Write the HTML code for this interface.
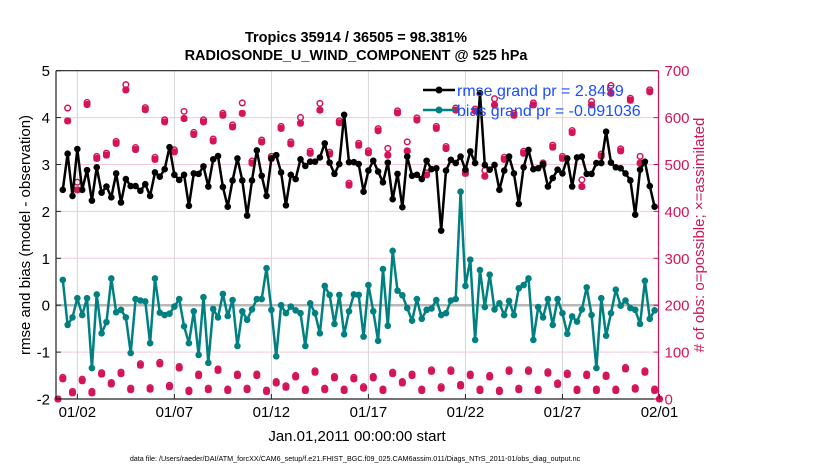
<!DOCTYPE html>
<html><head><meta charset="utf-8">
<style>
html,body{margin:0;padding:0;background:#fff;}
svg{display:block;font-family:"Liberation Sans",Arial,sans-serif;}
</style></head>
<body>
<svg id="chart" width="830" height="470" viewBox="0 0 830 470">
  <text x="356" y="42" text-anchor="middle" font-size="14.5" font-weight="bold">Tropics 35914 / 36505 = 98.381%</text>
  <text x="356" y="60" text-anchor="middle" font-size="14.5" font-weight="bold">RADIOSONDE_U_WIND_COMPONENT @ 525 hPa</text>
  <g id="grid"></g>
  <g id="marks"></g>
  <g id="axes"></g>
  <text transform="translate(30,235) rotate(-90)" text-anchor="middle" font-size="15">rmse and bias (model - observation)</text>
  <text transform="translate(704,235) rotate(-90)" text-anchor="middle" font-size="15" fill="#d4145a"># of obs: o=possible; ×=assimilated</text>
  <text x="357" y="441" text-anchor="middle" font-size="15">Jan.01,2011 00:00:00 start</text>
  <text x="355" y="461" text-anchor="middle" font-size="7.2">data file: /Users/raeder/DAI/ATM_forcXX/CAM6_setup/f.e21.FHIST_BGC.f09_025.CAM6assim.011/Diags_NTrS_2011-01/obs_diag_output.nc</text>
  <g id="legend">
    <line x1="423" y1="90" x2="455" y2="90" stroke="#000" stroke-width="2.5"/>
    <circle cx="439" cy="90" r="3.5" fill="#000"/>
    <text x="457" y="96" font-size="16" fill="#1a4dff">rmse grand pr = 2.8459</text>
    <line x1="423" y1="110" x2="455" y2="110" stroke="#008080" stroke-width="2.5"/>
    <circle cx="439" cy="110" r="3.5" fill="#008080"/>
    <text x="457" y="116" font-size="16" fill="#1a4dff">bias grand pr = -0.091036</text>
  </g>
</svg>
<script>
const rmse=[2.46,3.23,2.33,3.33,2.46,2.88,2.23,2.94,2.40,2.53,2.30,2.81,2.19,2.69,2.54,2.54,2.44,2.58,2.33,2.83,2.74,2.90,3.37,2.78,2.67,2.78,2.12,2.81,2.80,2.96,2.53,3.11,3.18,2.52,2.10,2.66,3.13,2.66,1.91,2.66,3.30,2.76,
2.33,3.13,3.20,2.83,2.13,2.78,2.69,3.11,2.97,3.06,3.06,3.15,3.45,3.04,2.80,3.01,4.06,3.05,3.05,3.01,2.42,2.87,3.08,2.85,2.62,3.04,2.26,2.80,2.09,3.17,2.76,2.78,2.69,3.08,2.90,2.92,1.59,2.87,3.10,3.03,3.17,
2.89,3.28,3.03,4.52,2.99,2.89,2.99,2.46,2.87,3.17,2.81,2.16,2.94,3.31,2.90,2.92,3.01,2.53,2.71,2.89,2.81,3.13,2.53,3.15,3.17,2.80,2.80,3.03,3.03,3.70,3.04,2.94,2.92,2.81,2.66,1.93,2.89,3.06,2.54,2.10];
const bias=[0.54,-0.42,-0.26,0.15,-0.21,0.15,-1.34,0.23,-0.60,-0.36,0.57,-0.15,-0.10,-0.26,-1.02,0.13,0.10,0.08,-0.81,0.57,-0.16,-0.21,-0.18,-0.03,0.13,-0.45,-0.81,-0.13,-1.06,0.17,-1.23,-0.08,-0.26,0.24,-0.23,0.11,-0.87,-0.13,-0.31,-0.09,0.13,0.13,
0.79,-0.10,-1.09,0.00,-0.17,-0.03,-0.11,-0.17,-0.87,0.04,-0.17,-0.60,0.41,0.22,-0.40,0.22,-0.62,-0.13,0.23,0.22,-0.67,0.43,-0.13,-0.76,0.77,-0.44,1.16,0.31,0.21,-0.06,-0.33,0.13,-0.29,-0.10,-0.07,0.11,-0.21,-0.17,0.10,0.13,2.42,
0.41,0.97,-0.74,0.75,-0.04,0.65,-0.09,0.04,-0.21,0.09,-0.21,0.36,0.43,0.57,-0.74,-0.04,-0.26,0.13,-0.42,0.13,-0.17,-0.61,-0.24,-0.35,-0.09,0.38,-0.21,-1.34,0.15,-0.65,-0.17,0.33,-0.01,0.10,-0.06,-0.10,-0.40,0.52,-0.29,-0.11];
const obsHigh=[593,446,628,513,520,545,659,532,617,511,591,527,598,564,591,550,605,580,609,503,548,
513,577,544,588,524,616,522,589,456,541,525,572,520,610,529,595,478,577,534,616,
481,614,475,627,511,605,524,627,499,537,513,568,453,627,518,652,529,637,503,655];
const obsLow=[43,13,39,13,53,32,54,20,72,21,75,26,66,16,50,20,61,18,50,20,50,
16,34,25,47,18,57,20,45,18,43,23,45,18,54,34,50,18,59,23,59,28,
50,18,47,16,59,20,59,18,55,31,52,18,50,18,48,18,64,21,57,18];
const possExtra=[23,12,0,0,0,0,7,0,0,0,0,0,11,0,0,0,0,0,18,0,0,
0,0,0,8,0,10,0,0,0,0,0,0,10,0,15,0,0,0,0,0,
0,0,8,9,0,0,0,0,0,0,0,0,10,3,0,12,0,0,10,0];
const xTickDays=[1,6,11,16,21,26,31];
const xTickLabels=["01/02","01/07","01/12","01/17","01/22","01/27","02/01"];
const yTicksL=[-2,-1,0,1,2,3,4,5];
const yTicksR=[0,100,200,300,400,500,600,700];

const NS="http://www.w3.org/2000/svg";
const X0=56,X1=658.5,Y0=70.7,Y1=399;
const DAY0=-0.1,DAY1=30.95;
const xs=d=>X0+(d-DAY0)/(DAY1-DAY0)*(X1-X0);
const yL=v=>Y1-(v+2)/7*(Y1-Y0);
const yR=v=>Y1-v/700*(Y1-Y0);
const dayOf=i=>0.25+i*0.25;
const RED="#d4145a",TEAL="#008080";
function mk(tag,attrs,parent){const e=document.createElementNS(NS,tag);for(const k in attrs)e.setAttribute(k,attrs[k]);parent.appendChild(e);return e;}
const grid=document.getElementById('grid'),marks=document.getElementById('marks'),axes=document.getElementById('axes');

yTicksR.forEach(v=>{if(v===0||v===700)return;
 const l=mk('line',{x1:X0,x2:X1,y1:yR(v),y2:yR(v),stroke:'#f3c9d8','stroke-width':1},grid);
 
 });
xTickDays.forEach(d=>{const x=xs(d);if(x>X1-1)return;
 const l=mk('line',{x1:x,x2:x,y1:Y0,y2:Y1,stroke:'#d6d6d6','stroke-width':1},grid);
 
 });
const zl=mk('line',{x1:X0,x2:X1,y1:yL(0),y2:yL(0),stroke:'#b8b8b8','stroke-width':2.5},grid);



function asterisk(x,y,g){
 const p=mk('path',{d:`M${x-3.5},${y}H${x+3.5}M${x},${y-3.5}V${y+3.5}M${x-2.6},${y-2.6}L${x+2.6},${y+2.6}M${x-2.6},${y+2.6}L${x+2.6},${y-2.6}`,stroke:RED,'stroke-width':2.4,fill:'none'},g);
 
 }
function circ(x,y,g){
 const c=mk('circle',{cx:x,cy:y,r:2.8,fill:'none',stroke:RED,'stroke-width':1.5},g);
 
 }
obsHigh.forEach((v,k)=>{const i=2*k+1;const x=xs(dayOf(i));
 circ(x,yR(v+(possExtra[k]||0))-2,marks);asterisk(x,yR(v),marks);});
obsLow.forEach((v,k)=>{const i=2*k;const x=xs(dayOf(i));
 circ(x,yR(v)-1.5,marks);asterisk(x,yR(v),marks);});
[0,31].forEach(d=>{const x=xs(d);asterisk(x,yR(0),marks);});

function series(arr,color,name){
 const pts=arr.map((v,i)=>xs(dayOf(i)).toFixed(1)+','+yL(v).toFixed(1)).join(' ');
 const pl=mk('polyline',{points:pts,fill:'none',stroke:color,'stroke-width':2.5,'stroke-linejoin':'round'},marks);
 
 
 arr.forEach((v,i)=>{const c=mk('circle',{cx:xs(dayOf(i)),cy:yL(v),r:3.3,fill:color},marks);
  
  });}
series(bias,TEAL,'bias');
series(rmse,'#000','rmse');

const fr=mk('path',{d:`M${X0},${Y0}H${X1}M${X0},${Y0}V${Y1}H${X1}`,stroke:'#222','stroke-width':1.2,fill:'none'},axes);


const rl=mk('line',{x1:X1,x2:X1,y1:Y0,y2:Y1,stroke:RED,'stroke-width':1.2},axes);


yTicksL.forEach(v=>{const y=yL(v);
 mk('line',{x1:X0,x2:X0+5,y1:y,y2:y,stroke:'#222'},axes);
 const t=mk('text',{x:X0-6,y:y+5.5,'text-anchor':'end','font-size':15},axes);t.textContent=v;
 
 });
yTicksR.forEach(v=>{const y=yR(v);
 mk('line',{x1:X1-5,x2:X1,y1:y,y2:y,stroke:RED},axes);
 const t=mk('text',{x:X1+6,y:y+5.5,'font-size':15,fill:RED},axes);t.textContent=v;
 
 });
xTickDays.forEach((d,k)=>{const x=xs(d);
 mk('line',{x1:x,x2:x,y1:Y1,y2:Y1-5,stroke:'#222'},axes);
 const t=mk('text',{x:x,y:417,'text-anchor':'middle','font-size':15},axes);t.textContent=xTickLabels[k];
 
 });
</script>
</body></html>
